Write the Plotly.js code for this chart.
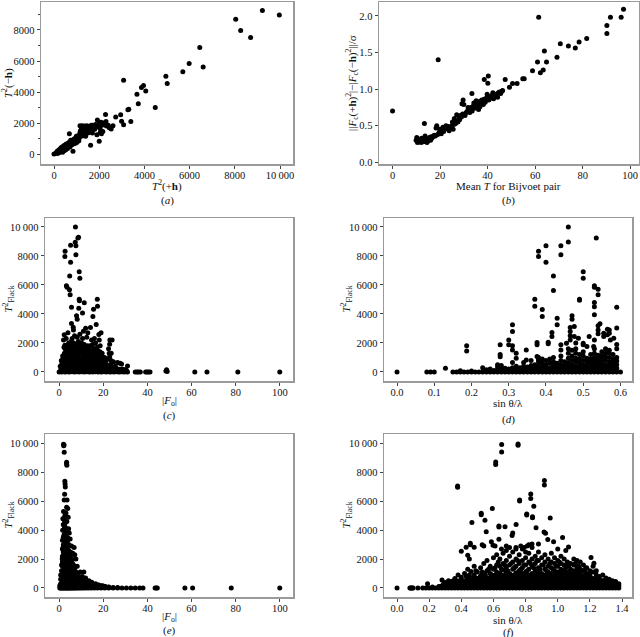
<!DOCTYPE html>
<html><head><meta charset="utf-8">
<script src="https://cdn.plot.ly/plotly-3.0.1.min.js"></script>
<style>html,body{margin:0;padding:0;background:#fff}#c{width:640px;height:637px}</style>
</head><body><div id="c"></div>
<script>
// ---------- DATA ----------
// (a) T^2(+h) vs T^2(-h)
const ptsA = [[0,0],[90,60],[140,170],[160,40],[190,120],[210,260],[230,90],[250,190],[270,330],[290,150],[300,260],[320,420],[340,210],[360,340],[380,120],[390,480],[410,300],[430,400],[450,210],[460,560],[480,350],[500,470],[520,280],[540,640],[560,420],[580,540],[600,350],[620,700],[640,500],[660,600],[680,780],[700,450],[720,650],[740,880],[760,560],[780,720],[800,620],[820,900],[840,180],[860,760],[880,660],[900,980],[920,820],[950,700],[980,880],[1000,1080],[1020,760],[1050,940],[1080,1200],[1100,850],[1120,1050],[1150,1380],[1170,1500],[1190,1150],[1210,1600],[1230,1300],[1260,1450],[1290,1180],[1320,1550],[1360,1400],[1400,1650],[1440,1500],[1480,1720],[1520,1600],[1560,1400],[1600,1780],[1640,1650],[1680,1500],[1720,1850],[1760,1700],[1800,1600],[1840,1900],[1880,1750],[1920,2200],[1960,1850],[2000,1950],[2040,1650],[2080,2050],[2100,1300],[2120,1850],[2160,1450],[2200,2000],[2240,1900],[2280,2550],[2300,2100],[2320,1800],[680,1300],[990,1140],[1150,1830],[1250,1820],[1350,1810],[1450,1820],[1550,1790],[1650,1850],[1750,1820],[1850,1830],[1950,1800],[2050,1880],[2250,1960],[1620,560],[2000,820],[1500,1350],[1400,1150],[1700,1350],[1900,1250],[2050,1400],
[9220,9250],[9970,8970],[8040,8690],[8260,7960],[8700,7510],[6450,6870],[6600,5620],[5980,5840],[5700,5300],[4950,5020],[5010,4550],[3080,4760],[3960,4420],[3870,4290],[4060,4060],[3670,3860],[3730,3240],[4480,3000],[3270,2850],[3310,2890],[2950,2530],[3400,2100],[3080,1890],[2990,2120],[2730,2380],[2610,1830],[2530,1610],[2400,1850],[2450,1700]];

// (b) mean T vs normalised Bijvoet difference
const ptsB = [[0,0.70],[19.2,1.40],[61.5,1.98],[97.2,2.09],[96.2,1.98],[91.7,1.98],[90.2,1.87],[90.2,1.76],[81.7,1.69],[78.5,1.645],[76.9,1.56],[74.0,1.59],[70.6,1.62],[69.2,1.435],[63.9,1.52],[64.8,1.37],[61.0,1.37],[63.4,1.26],[62.2,1.225],[58.9,1.25],[55.4,1.14],[54.8,1.14],[52.4,1.075],[50.5,1.075],[49.2,1.025],[47.4,1.13],[40.3,1.18],[38.6,1.13],[40.1,1.08],[33.4,0.94],[13.4,0.53],[29.7,0.85],[46.3,0.98],
[9.9,0.30],[10.2,0.34],[10.5,0.27],[11,0.29],[11.5,0.31],[12,0.27],[12.5,0.30],[13,0.28],[13.3,0.33],[13.7,0.36],[14,0.30],[14.5,0.27],[15,0.32],[15.5,0.34],[16,0.30],[16.5,0.33],[17,0.35],[17.5,0.37],[18,0.36],[18.3,0.47],[18.6,0.50],[19,0.38],[19.5,0.40],[20,0.42],[20.5,0.39],[21,0.44],[21.5,0.42],[22,0.47],[22.5,0.50],[23,0.46],[23.5,0.49],[24,0.48],[24.5,0.46],[25,0.50],[25.5,0.45],[26,0.52],[26.5,0.53],[27,0.56],[27.5,0.55],[28,0.60],[28.5,0.64],[29,0.62],[29.5,0.66],[30,0.79],[30.5,0.64],[31,0.68],[31.5,0.70],[32,0.72],[32.5,0.68],[33,0.75],[33.5,0.70],[34,0.77],[34.5,0.74],[35,0.80],[35.5,0.75],[36,0.78],[36.5,0.83],[37,0.80],[37.5,0.85],[38,0.83],[38.5,0.86],[39,0.82],[39.5,0.88],[40,0.87],[40.5,0.85],[41,0.90],[41.5,0.88],[42,0.92],[42.5,0.87],[43,0.90],[43.5,0.93],[44,0.92],[44.5,0.95],[45,0.96],[45.5,0.94],[46,0.97],[26,0.60],[27,0.65],[12.2,0.33],[14.8,0.29],[16.2,0.35],[19.8,0.45],[21.2,0.48],[23.8,0.43],[25.2,0.55],[28.2,0.58],[31.8,0.75],[35.2,0.84],[36.8,0.76],[38.2,0.79],[42.2,0.95],[44.2,0.89],[29.2,0.80],[34.2,0.81],[36.2,0.72],[39.8,0.93]];

// (c) |Fo| vs T^2_Flack
const ptsC = [[0,0],[0.6,30],[1.2,0],[1.8,60],[2.3,10],[2.9,0],[3.4,80],[4.1,20],[4.6,0],[5.2,50],[5.8,10],[6.3,90],[6.9,0],[7.5,40],[8.0,10],[8.6,70],[9.1,0],[9.7,30],[10.3,10],[10.8,60],[11.4,0],[12.0,40],[12.5,10],[13.1,80],[13.6,0],[14.2,20],[14.8,50],[15.3,0],[15.9,30],[16.4,10],[17.0,60],[17.6,0],[18.1,40],[18.7,20],[19.2,0],[19.8,70],[20.4,10],[20.9,40],[21.5,0],[22.0,30],[22.6,60],[23.1,0],[23.7,20],[24.3,50],[24.8,0],[25.4,30],[25.9,10],[26.5,40],[27.0,0],[27.6,20],[28.1,10],[28.7,30],[29.2,0],[29.8,10],[30.4,20],[31.0,0],[34.5,0],[35.3,0],[36.0,0],[36.8,0],[39.2,0],[39.9,0],[40.5,0],[41.2,0],[48.4,60],[48.7,150],[49.0,40],[61.5,0],[67.0,0],[81.0,0],[100,0],
[0.8,200],[1.5,350],[2.1,150],[2.7,450],[3.2,250],[3.8,550],[4.3,180],[4.9,380],[5.5,260],[6.1,480],[6.6,150],[7.2,320],[7.8,560],[8.3,220],[8.9,400],[9.4,130],[10.0,300],[10.6,500],[11.1,240],[11.7,420],[12.3,160],[12.8,350],[13.4,580],[13.9,200],[14.5,400],[15.1,280],[15.6,140],[16.2,350],[16.8,220],[17.3,480],[17.9,160],[18.4,300],[19.0,120],[19.6,250],[20.2,380],[20.8,180],[21.3,280],[21.9,140],[22.5,220],[23.0,350],[23.6,160],[24.2,120],[24.7,200],[25.3,150],[26.0,250],[26.8,120],[27.5,180],[28.3,550],[29.0,100],[30.2,150],[31.0,420],
[1.0,800],[1.6,1100],[2.2,1700],[2.6,1850],[2.4,1300],[3.0,900],[3.5,1500],[3.9,700],[4.2,1200],[4.5,1800],[4.8,950],[5.1,1400],[5.4,2100],[5.7,700],[6.0,1000],[6.3,1600],[6.6,2000],[6.9,1300],[7.2,850],[7.5,1900],[7.8,1100],[8.1,1500],[8.4,700],[8.7,2100],[9.0,1200],[9.3,1700],[9.6,900],[9.9,1400],[10.2,2000],[10.5,750],[10.8,1100],[11.1,1600],[11.4,1900],[11.7,900],[12.0,1300],[12.3,1700],[12.6,650],[12.9,1000],[13.2,1500],[13.5,800],[13.8,1200],[14.1,1800],[14.4,950],[14.7,1350],[15.0,700],[15.3,1100],[15.6,1600],[15.9,850],[16.2,1250],[16.5,2000],[16.8,700],[17.1,1050],[17.4,1500],[17.7,900],[18.0,1200],[18.3,750],[18.6,1800],[18.9,1000],[19.2,650],[19.5,1300],[20.0,800],[20.6,1000],[21.2,700],[21.8,900],[22.4,1600],[22.9,1050],[23.5,800],[24.0,650],[24.6,700],[25.5,400],[26.5,650],[2.0,2200],[3.2,2300],[5.9,2300],[7.0,2500],[8.2,2400],[9.4,2600],[10.6,2300],[12.5,2400],[14.7,2200],[16.0,2300],[18.2,2200],[4.0,2700],[6.5,2900],[11.0,2800],[13.0,2700],[19.0,2700],[24.0,2200],
[0.5,400],[1.3,600],[2.0,500],[2.5,700],[3.0,400],[3.6,300],[4.0,900],[4.6,600],[5.3,800],[5.9,500],[6.4,700],[7.0,600],[7.6,900],[8.1,800],[8.7,600],[9.2,750],[9.8,600],[10.4,900],[10.9,800],[11.5,650],[12.1,550],[12.6,900],[13.2,750],[13.8,600],[14.3,750],[14.9,550],[15.5,650],[16.0,500],[16.6,600],[17.2,800],[17.8,450],[18.8,500],[19.4,450],[20.5,550],[21.6,450],[22.7,450],[23.3,500],[1.9,1000],[2.8,1200],[3.3,1100],[3.7,1000],[4.4,1500],[5.0,1150],[5.6,1600],[6.2,1250],[6.8,1700],[7.3,1400],[7.9,1300],[8.5,1000],[9.1,1550],[9.7,1250],[10.4,1350],[11.0,1250],[11.6,1000],[12.2,1100],[12.9,1300],[13.6,1100],[14.2,1000],[14.9,1000],[15.8,1400],[16.5,1500],[17.6,1300],[18.5,1400],[19.8,1000],[2.7,1600],[3.8,1800],[4.3,2000],[5.9,1800],[6.9,1600],[8.0,1800],[9.2,1900],[10.5,1700],[11.8,1400],[12.9,1800],[13.8,1500],[15.2,1900],[17.2,1700],[1.4,100],[2.0,250],[3.5,150],[4.5,300],[5.6,200],[6.8,300],[8.0,150],[9.2,300],[10.4,200],[11.6,300],[12.8,200],[14.0,300],[15.2,200],[16.4,250],[17.6,300],[18.8,200],[20.0,250],[21.2,150],[22.4,100],[23.6,300],[24.9,250],[26.2,100],[27.3,100],[28.6,200],[29.6,150],[30.6,80],
[7.4,10000],[8.5,9240],[8.8,9290],[7.3,8940],[5.2,8730],[7.6,8710],[2.7,8320],[2.6,7970],[7.6,8090],[5.2,7560],[3.3,5940],[3.6,5850],[4.7,5670],[5.0,5320],[4.8,6610],[9.1,6910],[9.4,6470],[9.1,5020],[9.2,4910],[17.3,5020],[17.4,4540],[5.6,4470],[8.9,4400],[11.4,4770],[10.6,4060],[15.6,4330],[15.3,3820],[7.9,3870],[8.2,3640],[5.6,3340],[6.4,3090],[16.8,3270],[14.2,3060],[12.0,3020],[18.0,2580],[2.3,2560],[23.0,2210],[22.9,1910],[22.7,1290],[23.6,1290],[27.6,600]];

// (d) sin(theta)/lambda vs T^2_Flack : dense columns + scattered points
const dColX = [0.15,0.16,0.17,0.18,0.19,0.20,0.21,0.22,0.23,0.24,0.25,0.26,0.27,0.28,0.29,0.30,0.31,0.32,0.33,0.34,0.35,0.36,0.37,0.38,0.39,0.40,0.41,0.42,0.43,0.44,0.45,0.46,0.47,0.48,0.49,0.50,0.51,0.52,0.53,0.54,0.55,0.56,0.57,0.58,0.59,0.60];
const dColY = [[0],[0],[0,80],[0],[0],[0,60],[0],[0],[0,300],[0,150],[0,200],[0,100],[0,150,350,500],[0,150,300,450],[0,100,250],[0,200,50],[0,150,300,650],[0,200,400],[0,150,300],[0,200,400,650],[0,150,350],[0,200,450,800],[0,150,300,500],[0,200,400,700,850,1000],[0,150,350,600,900],[0,250,500,800],[0,150,300,600,900],[0,200,450,700,1000],[0,150,350,600],[0,250,500,800,1100],[0,200,450,700],[0,150,400,650,950,1300,1600],[0,250,500,800,1100,1500],[0,200,400,700,950,1300,1600,2000],[0,150,350,600,900,1200],[0,250,500,800,1100,1400],[0,200,450,700,950],[0,150,400,650,900,1200],[0,250,500,750,1000,1300,1600,2200],[0,200,400,650,900,1150],[0,150,350,600,850,1100,1400],[0,250,500,800,1050,1300,1600],[0,200,450,700,1000,1300,1500],[0,150,400,650,900,1200],[0,250,500,750,1000,1600,1900],[0]];
const ptsD = [[0,0],[0.08,0],[0.09,0],[0.10,0],[0.13,250],[0.187,1800],[0.187,1450],[0.277,1870],[0.277,1200],[0.277,1050],[0.30,2210],[0.30,1870],[0.31,3250],[0.31,2790],[0.31,1800],[0.31,1520],[0.32,1290],[0.32,945],[0.347,1520],[0.347,830],[0.376,2030],[0.376,1870],[0.376,1060],[0.406,1940],[0.406,2050],[0.416,2720],[0.416,2440],[0.44,1870],[0.44,1520],[0.455,1980],[0.465,3060],[0.465,2790],[0.465,2490],[0.465,2210],[0.476,3130],[0.476,2440],[0.487,2330],[0.50,1980],[0.50,1870],[0.51,1750],[0.516,2440],[0.528,1750],[0.555,2440],[0.555,2670],[0.57,2670],[0.57,2900],[0.573,2210],[0.582,2330],
[0.46,10000],[0.46,8960],[0.535,9240],[0.40,8710],[0.44,8710],[0.44,8090],[0.38,8320],[0.38,7970],[0.40,7560],[0.42,6610],[0.42,5620],[0.50,6910],[0.50,6470],[0.49,5020],[0.49,4950],[0.37,5020],[0.37,4540],[0.39,4310],[0.39,3820],[0.43,3710],[0.43,3250],[0.53,5940],[0.53,5850],[0.54,5710],[0.54,5320],[0.53,4790],[0.53,4490],[0.59,4470],[0.47,3870],[0.47,3640],[0.53,3940],[0.545,3320],[0.54,3180],[0.54,2900],[0.54,2630],[0.565,2950],[0.565,2560],[0.59,3040]];

// (e) |Fo| vs T^2_Flack : dense columns + scattered points
const eColX = [0.3,0.7,1.1,1.5,1.9,2.3,2.7,3.1,3.5,3.9,4.3,4.7,5.1,5.6,6.1,6.6,7.1,7.7,8.3,9.0,9.7,10.5,11.4,12.4,13.5,14.7,16.0,17.4,19.0,20.7,22.5,24.5,26.5,28.5,30.5,32.5,34.5,36.5,38.0];
const eColY = [[0,150],[0,300,600,900],[0,300,600,900,1200,1600],[0,300,600,900,1200,1500,1800,2200,2700],[0,300,600,900,1200,1500,1800,2100,2500,3000,3500],[0,300,600,900,1200,1500,1800,2100,2400,2800,3200,3700,4300],[0,300,600,900,1200,1500,1800,2100,2400,2700,3000,3500,4000,4500],[0,300,600,900,1200,1500,1800,2100,2400,2700,3100,3500,4000],[0,300,600,900,1200,1500,1800,2100,2500,2900,3300,3800],[0,300,600,900,1200,1500,1800,2100,2400,2800,3300],[0,300,600,900,1200,1500,1800,2200,2600,3000],[0,300,600,900,1200,1500,1800,2100,2500],[0,300,600,900,1200,1500,1800,2200],[0,300,600,900,1200,1500,1900],[0,300,600,900,1200,1500,1700],[0,300,600,900,1200,1500],[0,300,600,900,1200,1400],[0,300,600,900,1100],[0,300,600,900],[0,300,600,800],[0,300,500,700],[0,250,500],[0,250,450],[0,200,400],[0,200,350],[0,150,300],[0,150,250],[0,100,200],[0,100,150],[0,80],[0,60],[0,40],[0,30],[0],[0],[0],[0],[0],[0]];
const ptsE = [[43.5,0],[44.0,0],[44.5,0],[57,0],[60.5,0],[78,0],[100,0],
[2.0,9950],[2.1,9850],[2.2,9900],[2.3,9400],[3.4,8700],[3.5,8500],[3.4,8600],[2.6,7400],[2.7,7200],[2.8,7000],[2.5,6500],[2.3,6100],[3.6,6100],[3.4,5600],[3.9,5500],[2.0,5300],[3.1,5200],[2.6,5000],[1.7,4800],[4.1,4900],[2.4,4700],[3.5,4600],[1.9,4400],[2.8,4200],[4.3,4100],[1.6,4000],[3.2,3900],[4.6,3800],[2.1,3600],[3.8,3500],[5.0,3400],[1.5,3300],[2.9,3100],[4.4,3000],[5.6,2900],[6.8,2800],[1.8,2800],[3.6,2600],[5.2,2500],[6.2,2400],[7.1,2300],[2.5,2200],[4.0,2100],[5.8,2000],[7.6,2000],[1.4,2000],[3.0,1800],[4.8,1700],[6.5,1600],[8.2,1500],[9.6,1100],[10.5,800],[11.2,1100],[12.0,700],[13.5,500],[14.8,400],[16.5,300],[18.0,200],[19.8,150],[21.0,100],[22.5,50]];

// (f) sin(theta)/lambda vs T^2_Flack : dense columns (two interleaved sets) + scattered points
const fColX = [0.16,0.18,0.20,0.22,0.24,0.26,0.28,0.30,0.32,0.34,0.36,0.38,0.40,0.42,0.44,0.46,0.48,0.50,0.52,0.54,0.56,0.58,0.60,0.62,0.64,0.66,0.68,0.70,0.72,0.74,0.76,0.78,0.80,0.82,0.84,0.86,0.88,0.90,0.92,0.94,0.96,0.98,1.00,1.02,1.04,1.06,1.08,1.10,1.12,1.14,1.16,1.18,1.20,1.22,1.24,1.26,1.28,1.30,1.32,1.34,1.36,1.38];
const fColY = [[0],[0],[0],[0,60],[0],[0,100],[0,150,550],[0,150,380],[0,200,250,500],[0,200,450],[0,200,300,650],[0,200,400,900],[0,200,400,750],[0,200,450,1000],[0,200,450,700,1300],[0,200,400,550,1150],[0,200,400,550,900,1500],[0,200,400,600,1100],[0,200,400,600,850,1400],[0,200,400,650,1000,1700],[0,200,400,650,1200,1900],[0,200,400,600,700,1000,1500],[0,200,400,600,700,1300,2100],[0,200,400,600,800,1100,1600,2300],[0,200,400,600,800,1000,1500,2000],[0,200,400,600,800,1250,1700,2400],[0,200,400,600,800,1100,1400,1900,2600],[0,200,400,600,800,1000,1600,2200],[0,200,400,600,800,1300,1800,2500],[0,200,400,600,800,1050,1500,2000,2800],[0,200,400,600,800,1200,1700,2300],[0,200,400,600,800,1000,1400,1900,2700],[0,200,400,600,800,1100,1600,2100,2500],[0,200,400,600,800,1300,1800,2400],[0,200,400,600,800,1000,1500,2000,2800],[0,200,400,600,800,1200,1700,2200],[0,200,400,600,800,1100,1400,1900,2500],[0,200,400,600,800,1000,1600,2100],[0,200,400,600,800,1300,1800,2300],[0,200,400,600,800,1100,1500,2000],[0,200,400,600,800,1000,1400,1800,2400],[0,200,400,600,800,1200,1700,2100],[0,200,400,600,800,1100,1500,1900],[0,200,400,600,800,1000,1300,1700,2200],[0,200,400,600,800,1200,1600,2000],[0,200,400,600,800,1100,1500,1800],[0,200,400,600,800,1000,1300,1700],[0,200,400,600,800,1200,1600,2000],[0,200,400,600,800,1100,1400,1900],[0,200,400,600,750,1000,1300,1800],[0,200,400,600,750,1200,1600],[0,200,400,600,700,1000,1400],[0,200,400,600,650,900,1200],[0,200,400,600,1100,1500],[0,200,400,550,900,1200],[0,200,400,550,800],[0,200,400,500,900],[0,200,400,450,700],[0,200,350,600],[0,200,350,500],[0,200,300,450],[0,150,300]];
const fCol2X = [0.27,0.29,0.31,0.33,0.35,0.37,0.39,0.41,0.43,0.45,0.47,0.49,0.51,0.53,0.55,0.57,0.59,0.61,0.63,0.65,0.67,0.69,0.71,0.73,0.75,0.77,0.79,0.81,0.83,0.85,0.87,0.89,0.91,0.93,0.95,0.97,0.99,1.01,1.03,1.05,1.07,1.09,1.11,1.13,1.15,1.17,1.19,1.21,1.23,1.25,1.27,1.29,1.31,1.33,1.35,1.37];
const fCol2Y = [[100],[100,300],[100,300],[100,300],[100,300,500],[100,300,500],[100,300,500],[100,300,500],[100,300,500,800],[100,300,500,900],[100,300,500,700],[100,300,500,700,1200],[100,300,500,700],[100,300,500,700,1100],[100,300,500,700,900],[100,300,500,700,1300],[100,300,500,700,900],[100,300,500,700,900,1400],[100,300,500,700,900,1800],[100,300,500,700,900,1300],[100,300,500,700,900,1600],[100,300,500,700,900,1200],[100,300,500,700,900,1700],[100,300,500,700,900,1400],[100,300,500,700,900,1900],[100,300,500,700,900,1300],[100,300,500,700,900,1600],[100,300,500,700,900,1200],[100,300,500,700,900,1700],[100,300,500,700,900,1400],[100,300,500,700,900,1900],[100,300,500,700,900,1300],[100,300,500,700,900,1600],[100,300,500,700,900,1200],[100,300,500,700,900,1700],[100,300,500,700,900,1300],[100,300,500,700,900,1500],[100,300,500,700,900,1800],[100,300,500,700,900,1200],[100,300,500,700,900,1400],[100,300,500,700,900,1600],[100,300,500,700,900],[100,300,500,700,900,1700],[100,300,500,700,900,1500],[100,300,500,700,850],[100,300,500,700,900,1300],[100,300,500,700,800],[100,300,500,700],[100,300,500,650],[100,300,500,600],[100,300,500],[100,300,500],[100,300,450],[100,300],[100,300],[100,250]];
const ptsF = [[0,0],[0.08,0],[0.085,0],[0.09,0],[0.095,0],[0.10,0],[0.13,0],[0.19,300],[0.40,2540],[0.43,2820],[0.44,2260],[0.45,2000],[0.456,3090],[0.456,3000],[0.48,2820],[0.53,3000],[0.54,2900],[0.597,2960],[0.61,2900],[0.65,2700],[0.68,2900],[0.70,2800],[0.74,2700],[0.77,2900],[0.79,2800],[0.81,2900],[0.82,3000],[0.84,3050],[0.88,3050],[1.00,2700],[1.05,2600],
[0.651,9930],[0.651,9420],[0.753,9980],[0.753,9880],[0.614,8730],[0.614,8550],[0.917,7440],[0.917,7140],[0.377,7070],[0.377,6970],[0.832,6510],[0.832,6190],[0.763,6100],[0.763,6030],[0.593,5500],[0.851,5660],[0.807,5130],[0.807,5060],[0.843,4940],[0.843,4870],[0.524,5170],[0.524,5080],[0.953,4850],[0.547,4690],[0.466,4530],[0.634,4300],[0.634,4230],[0.672,4250],[0.741,4390],[0.865,4180],[0.555,3900],[0.587,3210],[0.634,3370],[0.716,3630],[0.72,3810],[0.915,3880],[0.924,3790],[0.974,3210],[0.938,3350],[1.03,3490],[1.067,2840],[1.207,2120],[1.225,1710]];

// tick labels
const bigTickVals = [0,2000,4000,6000,8000,10000];
const bigTickText = ['0','2000','4000','6000','8000','10\u2009000'];
const yTickValsA = [0,2000,4000,6000,8000];
const yTickTextA = ['0','2000','4000','6000','8000'];
const fTickVals = [0,20,40,60,80,100];
const bYTickVals = [0,0.5,1,1.5,2];
const bYTickText = ['0.0','0.5','1.0','1.5','2.0'];
const dTickVals = [0,0.1,0.2,0.3,0.4,0.5,0.6];
const dTickText = ['0.0','0.1','0.2','0.3','0.4','0.5','0.6'];
const fxTickVals = [0,0.2,0.4,0.6,0.8,1.0,1.2,1.4];
const fxTickText = ['0.0','0.2','0.4','0.6','0.8','1.0','1.2','1.4'];

// ---------- BUILD ----------
function expand(colX, colY){ const out=[]; colX.forEach((x,i)=>colY[i].forEach(y=>out.push([x,y]))); return out; }
const W=640,H=637;
const px=x=>x/W, py=y=>1-y/H;
const FONT="Liberation Serif, Times New Roman, serif";
const TF=10.5, LF=11;

const panels = [
 {pts:ptsA, xd:[41,293], yd:[2,164], xr:[-575,10575], yr:[-645,9806], xtv:bigTickVals, xtt:bigTickText, ytv:yTickValsA, ytt:yTickTextA, minor:true,
  xt:'<i>T</i><sup>2</sup>(+<b>h</b>)', yt:'<i>T</i><sup>2</sup>(−<b>h</b>)', cap:'a', xtY:185, capY:200, ytX:8},
 {pts:ptsB, xd:[379,638.5], yd:[2,164], xr:[-5.7,103.5], yr:[-0.023,2.19], xtv:fTickVals, xtt:fTickVals.map(String), ytv:bYTickVals, ytt:bYTickText,
  xt:'Mean <i>T</i> for Bijvoet pair', yt:'||<i>F</i><sub>c</sub>(+<b>h</b>)<sup>2</sup>|−|<i>F</i><sub>c</sub>(−<b>h</b>)<sup>2</sup>||/σ', cap:'b', xtY:186, capY:201, ytX:352},
 {pts:ptsC, xd:[45,293], yd:[218,381], xr:[-6.4,106], yr:[-622,10617], xtv:fTickVals, xtt:fTickVals.map(String), ytv:bigTickVals, ytt:bigTickText,
  xt:'|<i>F</i><sub>o</sub>|', yt:'<i>T</i><sup>2</sup><sub>Flack</sub>', cap:'c', xtY:401, capY:415, ytX:8},
 {pts:expand(dColX,dColY).concat(ptsD), xd:[384,632], yd:[218,381], xr:[-0.035,0.631], yr:[-622,10617], xtv:dTickVals, xtt:dTickText, ytv:bigTickVals, ytt:bigTickText,
  xt:'sin θ/λ', yt:'<i>T</i><sup>2</sup><sub>Flack</sub>', cap:'d', xtY:403, capY:419, ytX:346},
 {pts:expand(eColX,eColY).concat(ptsE), xd:[45,293], yd:[434,597], xr:[-6.4,106], yr:[-624,10665], xtv:fTickVals, xtt:fTickVals.map(String), ytv:bigTickVals, ytt:bigTickText,
  xt:'|<i>F</i><sub>o</sub>|', yt:'<i>T</i><sup>2</sup><sub>Flack</sub>', cap:'e', xtY:616.5, capY:630, ytX:8},
 {pts:expand(fColX,fColY).concat(expand(fCol2X,fCol2Y)).concat(ptsF), xd:[384,632], yd:[434,597], xr:[-0.081,1.462], yr:[-624,10665], xtv:fxTickVals, xtt:fxTickText, ytv:bigTickVals, ytt:bigTickText,
  xt:'sin θ/λ', yt:'<i>T</i><sup>2</sup><sub>Flack</sub>', cap:'f', xtY:619.5, capY:632, ytX:346}
];

const data=[], annotations=[];
const layout={width:W,height:H,margin:{l:0,r:0,t:0,b:0},showlegend:false,paper_bgcolor:'#fff',plot_bgcolor:'#fff',
  font:{family:FONT,size:TF,color:'#111'}};
panels.forEach((p,i)=>{
  const n=i+1, xs=n===1?'':n, ax='xaxis'+xs, ay='yaxis'+xs;
  data.push({type:'scatter',mode:'markers',x:p.pts.map(d=>d[0]),y:p.pts.map(d=>d[1]),xaxis:'x'+xs,yaxis:'y'+xs,
    marker:{size:5,color:'#000'},hoverinfo:'skip'});
  const common={showgrid:false,zeroline:false,showline:true,mirror:true,linecolor:'#9a9a9a',linewidth:1.5,
    ticks:'outside',ticklen:3,tickcolor:'#444',tickwidth:1,tickfont:{family:FONT,size:TF,color:'#111'},fixedrange:true};
  layout[ax]=Object.assign({},common,{domain:[px(p.xd[0]),px(p.xd[1])],range:p.xr,anchor:'y'+xs,tickmode:'array',tickvals:p.xtv,ticktext:p.xtt,ticklabelstandoff:-2});
  layout[ay]=Object.assign({},common,{domain:[py(p.yd[1]),py(p.yd[0])],range:p.yr,anchor:'x'+xs,tickmode:'array',tickvals:p.ytv,ticktext:p.ytt});
  if(p.minor){ layout[ay].minor={tickvals:[1000,3000,5000,7000,9000],ticks:'outside',ticklen:2,tickcolor:'#444'}; }
  const cx=px((p.xd[0]+p.xd[1])/2), cy=py((p.yd[0]+p.yd[1])/2);
  annotations.push({xref:'paper',yref:'paper',x:cx,y:py(p.xtY),text:p.xt,showarrow:false,font:{family:FONT,size:LF,color:'#111'},xanchor:'center',yanchor:'middle'});
  annotations.push({xref:'paper',yref:'paper',x:cx,y:py(p.capY),text:'(<i>'+p.cap+'</i>)',showarrow:false,font:{family:FONT,size:LF,color:'#111'},xanchor:'center',yanchor:'middle'});
  annotations.push({xref:'paper',yref:'paper',x:px(p.ytX),y:cy,text:p.yt,textangle:-90,showarrow:false,font:{family:FONT,size:LF,color:'#111'},xanchor:'center',yanchor:'middle'});
});
layout.annotations=annotations;
Plotly.newPlot('c',data,layout,{staticPlot:true,displayModeBar:false});
</script></body></html>
